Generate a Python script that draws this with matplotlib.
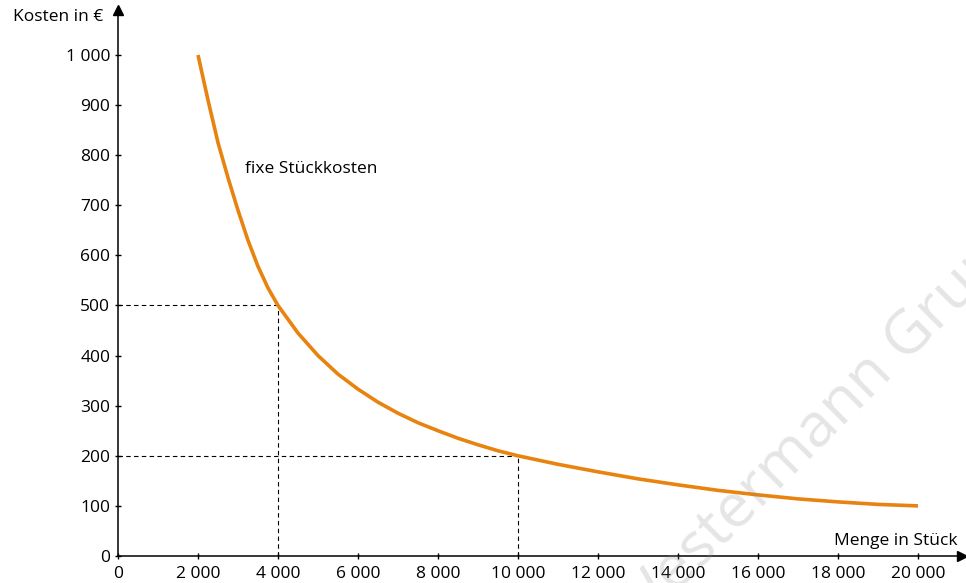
import matplotlib
matplotlib.use("Agg")
import matplotlib.pyplot as plt

plt.rcParams['font.family'] = ['Open Sans', 'DejaVu Sans']

# Stückzahl und fixe Stückkosten
menge = [2000, 2250, 2500, 2750, 3000, 3250, 3500, 3750, 4000,
         4500, 5000, 5500, 6000, 6500, 7000, 7500, 8000, 8500, 9000,
         9500, 10000, 11000, 12000, 13000, 14000, 15000, 16000, 17000,
         18000, 19000, 20000]
kosten = [1000, 910, 825, 755, 690, 630, 578, 535, 500,
          445, 400, 363, 333, 307, 285, 266, 250, 235, 222,
          210, 200, 183, 168, 154, 142, 131, 122, 114,
          108, 103, 100]

# markierte Punkte (gestrichelte Hilfslinien)
hilfs_x = [4000, 10000]
hilfs_y = [500, 200]

x_ticks = list(range(0, 20001, 2000))
y_ticks = list(range(0, 1001, 100))


def fmt(v):
    return f"{v:,}".replace(",", " ")


ORANGE = '#e8830f'
FS = 12.5

fig = plt.figure(figsize=(9.66, 5.83), dpi=100)
W, H = 966, 583
x0_px, y0_px = 118, 556
px_per_x = 40 / 1000
px_per_y = 50.1 / 100
xmax, ymax = 21100, 1090
ax = fig.add_axes([x0_px / W, (H - y0_px) / H,
                   xmax * px_per_x / W, ymax * px_per_y / H])
ax.set_xlim(0, xmax)
ax.set_ylim(0, ymax)

for s in ['top', 'right']:
    ax.spines[s].set_visible(False)
for s in ['left', 'bottom']:
    ax.spines[s].set_linewidth(1.1)
    ax.spines[s].set_color('black')

# Pfeilspitzen
ax.plot(1, 0, '>', color='black', markersize=7, transform=ax.transAxes, clip_on=False)
ax.plot(0, 1, '^', color='black', markersize=7, transform=ax.transAxes, clip_on=False)

ax.set_xticks(x_ticks)
ax.set_xticklabels([fmt(v) for v in x_ticks])
ax.set_yticks(y_ticks)
ax.set_yticklabels([fmt(v) for v in y_ticks])
ax.tick_params(axis='both', direction='inout', length=5, width=1.0,
               labelsize=FS, colors='black')
ax.tick_params(axis='x', pad=5)
ax.tick_params(axis='y', pad=3)

# Hilfslinien
for hx, hy in zip(hilfs_x, hilfs_y):
    ax.plot([0, hx], [hy, hy], color='black', lw=0.8, ls=(0, (4, 3)), zorder=2)
    ax.plot([hx, hx], [0, hy], color='black', lw=0.8, ls=(0, (4, 3)), zorder=2)

ax.plot(menge, kosten, color=ORANGE, lw=2.6, solid_capstyle='butt',
        solid_joinstyle='round', zorder=3)

ax.text(3175, 772, 'fixe Stückkosten', fontsize=FS, va='center', ha='left')

fig.text(103 / W, 1 - 17 / H, 'Kosten in €', fontsize=FS, ha='right', va='center')
fig.text(958 / W, 1 - 541 / H, 'Menge in Stück', fontsize=FS, ha='right', va='center')

# Wasserzeichen
fig.text(835 / W, 1 - 411 / H, 'Westermann Gruppe', fontsize=44, color='#8a8a8a',
         alpha=0.22, rotation=45, ha='center', va='center', rotation_mode='anchor',
         zorder=10)

fig.savefig('out.png', dpi=100)
